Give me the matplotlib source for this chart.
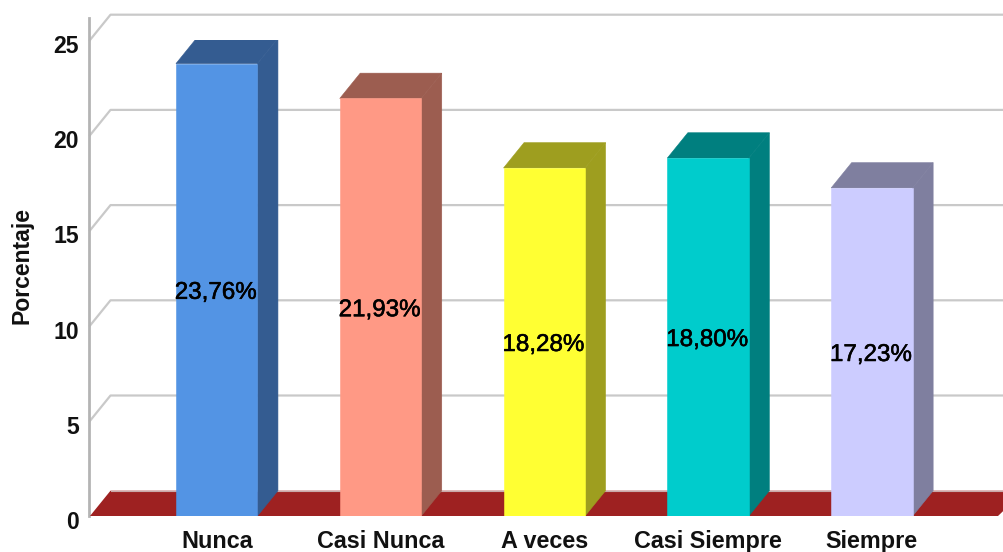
import matplotlib
matplotlib.use("Agg")
import matplotlib.pyplot as plt
from matplotlib.patches import Polygon, Rectangle
from matplotlib.transforms import ScaledTranslation
import matplotlib.patheffects as pe

# =========================
# data
# =========================
categorias = ["Nunca", "Casi Nunca", "A veces", "Casi Siempre", "Siempre"]
porcentajes = [23.76, 21.93, 18.28, 18.80, 17.23]
etiquetas = ["23,76%", "21,93%", "18,28%", "18,80%", "17,23%"]
y_ticks = [0, 5, 10, 15, 20, 25]

color_frente = ["#5394E4", "#FF9985", "#FFFF33", "#00CCCC", "#CCCCFF"]
color_lado = ["#345C91", "#9C5D50", "#9E9E1F", "#007F7F", "#7F7F9F"]

plt.rcParams["font.family"] = ["Liberation Sans", "DejaVu Sans"]

W, H = 1004, 552
fig = plt.figure(figsize=(W / 100, H / 100), dpi=100)

# ejes sobre el plano frontal: y=0 en 516 px, y=25 en 40 px
ax_left, ax_bottom, ax_top = 90, 516, 40
ax = fig.add_axes([ax_left / W, 1 - ax_bottom / H, (W - ax_left) / W, (ax_bottom - ax_top) / H])

paso = 163.8  # px entre categorias
ax.set_xlim((ax_left - 216.7) / paso, (W - 216.7) / paso)
ax.set_ylim(0, 25)
for s in ax.spines.values():
    s.set_visible(False)
ax.patch.set_alpha(0)

# profundidad del efecto 3D, en unidades de datos
dx = 20.5 / paso
dy = 25.3 / ((ax_bottom - ax_top) / 25)
ancho = 81.5 / paso
x0 = ax.get_xlim()[0]
x1 = ax.get_xlim()[1]

# pared del fondo y lineas de rejilla
gris = "#c9c9c9"
for t in y_ticks[1:]:
    ax.plot([x0, x0 + dx, x1], [t, t + dy, t + dy], color=gris, lw=1.6, clip_on=False, zorder=1)
ax.plot([x0 - 1 / paso, x0 - 1 / paso], [0, 26.15], color="#b4b4b4", lw=2, clip_on=False, zorder=2)

# suelo
ax.add_patch(Polygon([(x0, 0), (x0 + dx, dy), (x1 + dx, dy), (x1 - 6 / paso, 0)],
                     closed=True, fc="#9E2121", ec="none", clip_on=True, zorder=2))
ax.plot([x0 + dx, x1], [dy, dy], color="#c9a9a9", lw=0.8, zorder=2)

# barras
for i, v in enumerate(porcentajes):
    l = i - ancho / 2
    r = i + ancho / 2
    ax.add_patch(Polygon([(r, 0), (r + dx, dy), (r + dx, v + dy), (r, v)],
                         closed=True, fc=color_lado[i], ec=color_lado[i], lw=0.4, zorder=3))
    ax.add_patch(Polygon([(l, v), (l + dx, v + dy), (r + dx, v + dy), (r, v)],
                         closed=True, fc=color_lado[i], ec=color_lado[i], lw=0.4, zorder=3))
    ax.add_patch(Rectangle((l, 0), ancho, v, fc=color_frente[i], ec=color_frente[i], lw=0.4, zorder=4))
    ax.text(i - 1 / paso, v / 2 - 3 * 25 / 476, etiquetas[i], ha="center", va="center", fontsize=17.4,
            color="black", zorder=5, path_effects=[pe.withStroke(linewidth=0.4, foreground="black")])

ax.set_xticks(range(len(categorias)))
ax.set_xticklabels(categorias, fontsize=16.8, fontweight="bold", color="#111111")
ax.set_yticks(y_ticks)
ax.set_yticklabels([str(t) for t in y_ticks], fontsize=16.6, fontweight="bold", color="#111111")
ax.tick_params(axis="x", length=0, pad=10)
ax.tick_params(axis="y", length=0, pad=8)
for lab in ax.get_yticklabels():
    lab.set_transform(lab.get_transform() + ScaledTranslation(0, -4 / 100, fig.dpi_scale_trans))

fig.text(22 / W, 1 - 266 / H, "Porcentaje", rotation=90, ha="center", va="center", fontsize=16.6,
         fontweight="bold", color="#111111")

fig.savefig("out.png", dpi=100)
